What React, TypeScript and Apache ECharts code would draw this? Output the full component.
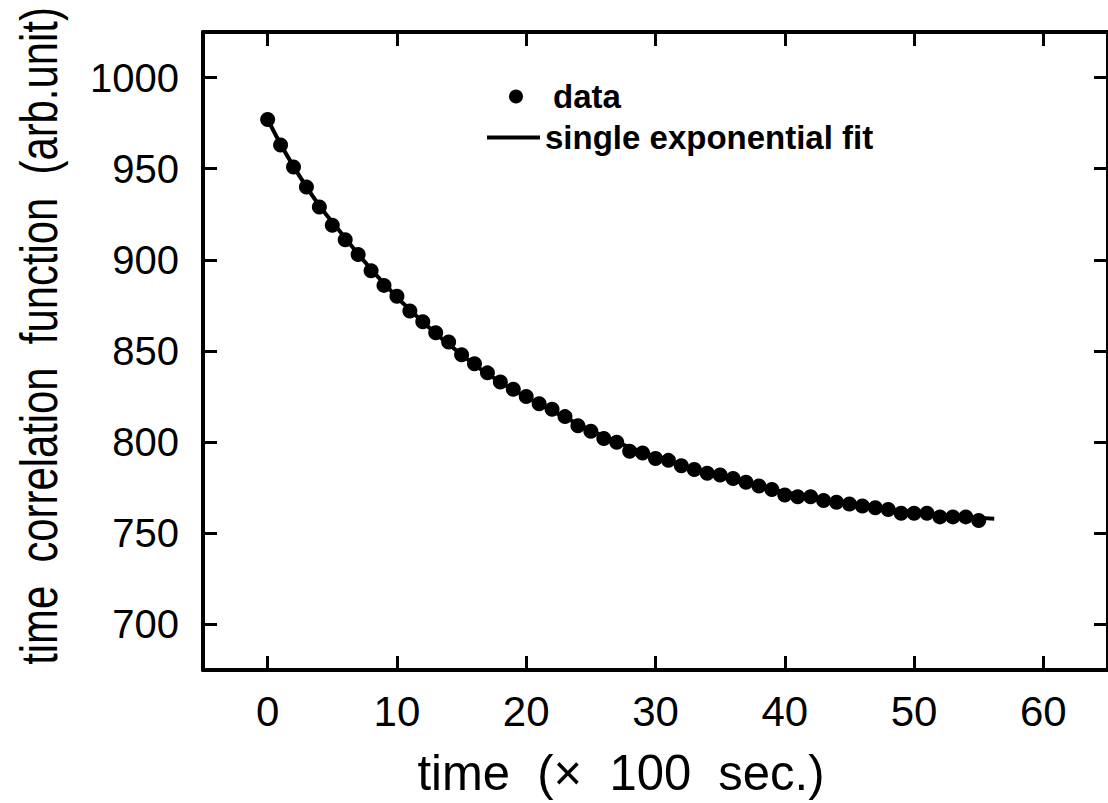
import React, { useEffect, useRef } from "react";
import * as echarts from "echarts";

const timeX = [
  0, 1, 2, 3, 4, 5, 6, 7, 8, 9, 10, 11, 12, 13, 14, 15, 16, 17, 18, 19,
  20, 21, 22, 23, 24, 25, 26, 27, 28, 29, 30, 31, 32, 33, 34, 35, 36, 37, 38, 39,
  40, 41, 42, 43, 44, 45, 46, 47, 48, 49, 50, 51, 52, 53, 54, 55,
];
const corrValues = [
  977, 963, 951, 940, 929, 919, 911, 903, 894, 886, 880, 872, 866, 860, 855, 848, 843, 838, 833, 829,
  825, 821, 818, 814, 809, 806, 802, 800, 795, 794, 791, 790, 787, 785, 783, 782, 780, 778, 776, 774,
  771, 770, 770, 768, 767, 766, 765, 764, 763, 761, 761, 761, 759, 759, 759, 757,
];
const fitX = [0, 3, 6, 9, 12, 15, 18, 21, 24, 27, 30, 33, 36, 39, 42, 45, 48, 51, 54, 56.2];
const fitValues = [977, 940, 912, 887, 866, 848, 833, 821, 810, 800, 792, 785, 779, 774, 770, 766, 763, 761, 759, 758];
const xTicks = [0, 10, 20, 30, 40, 50, 60];
const yTicks = [700, 750, 800, 850, 900, 950, 1000];

const FONT = "'Liberation Sans', Arial, sans-serif";

export default function App() {
  const ref = useRef<HTMLDivElement>(null);
  useEffect(() => {
    document.body.style.margin = "0";
    const chart = echarts.init(ref.current!, undefined, { renderer: "svg" });
    const axisLine = { show: true, onZero: false, lineStyle: { color: "#000", width: 4 } };
    const tick = (vals: number[]) => ({
      show: true,
      inside: true,
      length: 14,
      customValues: vals,
      lineStyle: { color: "#000", width: 3 },
    });
    const xBase = { type: "value" as const, min: -5, max: 65, splitLine: { show: false }, axisLine };
    const yBase = { type: "value" as const, min: 675, max: 1025, splitLine: { show: false }, axisLine };
    chart.setOption({
      animation: false,
      backgroundColor: "#fff",
      grid: { left: 203, top: 32, width: 912, height: 638, containLabel: false },
      xAxis: [
        {
          ...xBase,
          position: "bottom",
          axisTick: tick(xTicks),
          axisLabel: {
            customValues: xTicks,
            margin: 20,
            color: "#000",
            fontSize: 42,
            fontFamily: FONT,
            formatter: (v: number) => String(v),
          },
        },
        {
          ...xBase,
          position: "top",
          axisTick: tick(xTicks),
          axisLabel: { show: false },
        },
      ],
      yAxis: [
        {
          ...yBase,
          position: "left",
          axisTick: tick(yTicks),
          axisLabel: {
            customValues: yTicks,
            margin: 24,
            color: "#000",
            fontSize: 40,
            fontFamily: FONT,
            formatter: (v: number) => String(v),
          },
        },
        {
          ...yBase,
          position: "right",
          axisTick: tick(yTicks),
          axisLabel: { show: false },
        },
      ],
      legend: [
        {
          data: [{ name: "data", icon: "circle" }],
          left: 509,
          top: 80,
          padding: 0,
          itemWidth: 14,
          itemHeight: 14,
          textStyle: {
            color: "#000",
            fontSize: 33,
            fontWeight: "bold",
            fontFamily: FONT,
            padding: [0, 0, 0, 25],
          },
        },
        {
          data: [{ name: "single exponential fit", icon: "rect" }],
          left: 487,
          top: 121,
          padding: 0,
          itemWidth: 53,
          itemHeight: 4,
          textStyle: {
            color: "#000",
            fontSize: 33,
            fontWeight: "bold",
            fontFamily: FONT,
          },
        },
      ],
      graphic: [
        {
          type: "text",
          x: 621,
          y: 772,
          scaleX: 0.98,
          style: {
            text: "time  (×  100  sec.)",
            fontSize: 50,
            fontFamily: FONT,
            fill: "#000",
            textAlign: "center",
            textVerticalAlign: "middle",
          },
        },
        {
          type: "text",
          x: 40,
          y: 336,
          rotation: Math.PI / 2,
          scaleX: 0.82,
          style: {
            text: "time  correlation  function  (arb.unit)",
            fontSize: 51,
            fontFamily: FONT,
            fill: "#000",
            textAlign: "center",
            textVerticalAlign: "middle",
          },
        },
      ],
      series: [
        {
          name: "single exponential fit",
          type: "line",
          data: fitX.map((x, i) => [x, fitValues[i]]),
          symbol: "none",
          smooth: true,
          lineStyle: { color: "#000", width: 4 },
          itemStyle: { color: "#000" },
          z: 2,
        },
        {
          name: "data",
          type: "scatter",
          data: timeX.map((x, i) => [x, corrValues[i]]),
          symbol: "circle",
          symbolSize: 15,
          itemStyle: { color: "#000", opacity: 1 },
          z: 3,
        },
      ],
    });
    return () => chart.dispose();
  }, []);
  return <div ref={ref} style={{ width: 1108, height: 803 }} />;
}
